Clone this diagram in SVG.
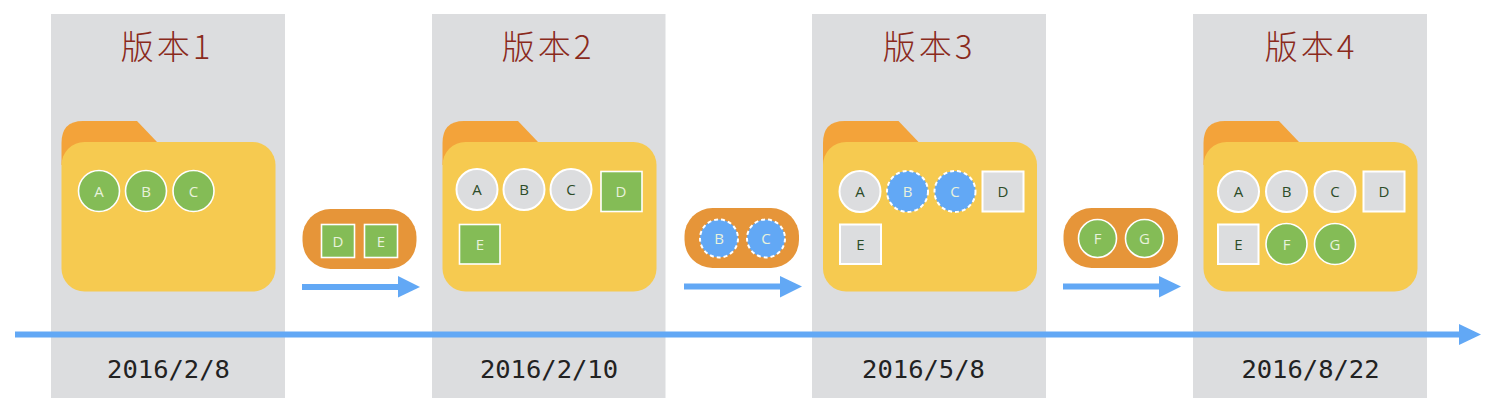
<svg xmlns="http://www.w3.org/2000/svg" xmlns:xlink="http://www.w3.org/1999/xlink" width="1494" height="410" viewBox="0 0 1494 410">
<style>
.panel{fill:#dcdddf}
.back{fill:#f3a33a}
.front{fill:#f6ca50}
.pill{fill:#e69539}
.title{font-family:"Noto Sans CJK SC","Noto Sans CJK JP",sans-serif;font-size:33px;font-weight:300;fill:#8a2a1c;text-anchor:middle;letter-spacing:3px}
.date{font-family:"DejaVu Sans Mono","Liberation Mono",monospace;font-size:25.5px;fill:#222;text-anchor:middle}
.g{fill:#84bc56;stroke:#fff;stroke-width:1.6}
.w{fill:#dcdddf;stroke:#fff;stroke-width:2}
.b{fill:#62a8f5;stroke:#fff;stroke-width:2;stroke-dasharray:4 3}
.lt,.ld{font-family:"Open Sans","Noto Sans",sans-serif;font-size:15px;text-anchor:middle}
.lt{fill:#e8f2dc}
.ld{fill:#2c4c28}
.arrow{stroke:#62a8f5;stroke-width:6;fill:none}
.head{fill:#62a8f5}
</style>
<defs>
<g id="folder">
<path class="back" d="M0.500 165V143Q0.500 121 22 121H76L96 142V165Z"/>
<rect class="front" x="0.500" y="142" width="214" height="149.500" rx="23"/>
</g>
</defs>
<g id="version-1">
<rect class="panel" x="51" y="14" width="234" height="384"/>
<text class="title" x="167" y="59">版本1</text>
<use href="#folder" transform="translate(61 0)"/>
<circle class="g" cx="99" cy="191" r="20.500"/><text class="lt" x="99" y="196.500">A</text>
<circle class="g" cx="146" cy="191" r="20.500"/><text class="lt" x="146" y="196.500">B</text>
<circle class="g" cx="193.500" cy="191" r="20.500"/><text class="lt" x="193.500" y="196.500">C</text>
<text class="date" x="168.500" y="378">2016/2/8</text>
</g>
<g id="version-2">
<rect class="panel" x="432" y="14" width="233.500" height="384"/>
<text class="title" x="548" y="59">版本2</text>
<use href="#folder" transform="translate(442 0)"/>
<circle class="w" cx="477" cy="189.500" r="20.500"/><text class="ld" x="477" y="195">A</text>
<circle class="w" cx="524" cy="189.500" r="20.500"/><text class="ld" x="524" y="195">B</text>
<circle class="w" cx="571" cy="189.500" r="20.500"/><text class="ld" x="571" y="195">C</text>
<rect class="g" x="601" y="171.500" width="41" height="40"/><text class="lt" x="621" y="197">D</text>
<rect class="g" x="459.500" y="224.500" width="40.500" height="39.500"/><text class="lt" x="480" y="250">E</text>
<text class="date" x="549" y="378">2016/2/10</text>
</g>
<g id="version-3">
<rect class="panel" x="812" y="14" width="234" height="384"/>
<text class="title" x="929" y="59">版本3</text>
<use href="#folder" transform="translate(822.500 0)"/>
<circle class="w" cx="860" cy="191.500" r="20.500"/><text class="ld" x="860" y="197">A</text>
<circle class="b" cx="907.500" cy="191.500" r="20.500"/><text class="lt" x="907.500" y="197">B</text>
<circle class="b" cx="955" cy="191.500" r="20.500"/><text class="lt" x="955" y="197">C</text>
<rect class="w" x="982.500" y="171.500" width="41" height="40"/><text class="ld" x="1003" y="197">D</text>
<rect class="w" x="840" y="224.500" width="41" height="39.500"/><text class="ld" x="860.500" y="250">E</text>
<text class="date" x="923.500" y="378">2016/5/8</text>
</g>
<g id="version-4">
<rect class="panel" x="1193" y="14" width="234" height="384"/>
<text class="title" x="1311" y="59">版本4</text>
<use href="#folder" transform="translate(1203 0)"/>
<circle class="w" cx="1238.500" cy="191.500" r="20.500"/><text class="ld" x="1238.500" y="197">A</text>
<circle class="w" cx="1286.500" cy="191.500" r="20.500"/><text class="ld" x="1286.500" y="197">B</text>
<circle class="w" cx="1335" cy="191.500" r="20.500"/><text class="ld" x="1335" y="197">C</text>
<rect class="w" x="1363.500" y="171.500" width="41" height="40"/><text class="ld" x="1384" y="197">D</text>
<rect class="w" x="1218" y="224.500" width="40.500" height="39.500"/><text class="ld" x="1238.500" y="250">E</text>
<circle class="g" cx="1286.500" cy="244" r="20.500"/><text class="lt" x="1286.500" y="249.500">F</text>
<circle class="g" cx="1335" cy="244" r="20.500"/><text class="lt" x="1335" y="249.500">G</text>
<text class="date" x="1310.500" y="378">2016/8/22</text>
</g>
<g id="change-1">
<rect class="pill" x="302.500" y="209" width="114" height="60" rx="28"/>
<rect class="g" x="321.500" y="224.500" width="33" height="33"/><text class="lt" x="338" y="247">D</text>
<rect class="g" x="364.500" y="224.500" width="33" height="33"/><text class="lt" x="381" y="247">E</text>
</g>
<g id="change-2">
<rect class="pill" x="684.500" y="208" width="114.500" height="60" rx="28"/>
<circle class="b" cx="719" cy="238.500" r="19"/><text class="lt" x="719" y="244">B</text>
<circle class="b" cx="766" cy="238.500" r="19"/><text class="lt" x="766" y="244">C</text>
</g>
<g id="change-3">
<rect class="pill" x="1063.500" y="208" width="114.500" height="60" rx="28"/>
<circle class="g" cx="1097.500" cy="238.500" r="19"/><text class="lt" x="1097.500" y="244">F</text>
<circle class="g" cx="1144.500" cy="238.500" r="19"/><text class="lt" x="1144.500" y="244">G</text>
</g>
<g id="connectors">
<path class="arrow" d="M302 287H399"/><path class="head" d="M398 276L420 287L398 297.500Z"/>
<path class="arrow" d="M684 286.500H781"/><path class="head" d="M780 276L802 286.500L780 297.500Z"/>
<path class="arrow" d="M1063 286.500H1160"/><path class="head" d="M1159 276L1181 286.500L1159 297.500Z"/>
<path class="arrow" d="M15 334.500H1460"/><path class="head" d="M1459 324L1481 334.500L1459 345Z"/>
</g>
</svg>
